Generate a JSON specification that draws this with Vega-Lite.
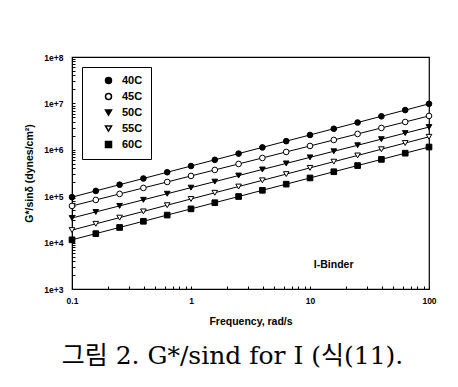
{
  "$schema": "https://vega.github.io/schema/vega-lite/v6.json",
  "width": 357,
  "height": 232,
  "autosize": "none",
  "padding": {"left": 72, "top": 57, "right": 29, "bottom": 98},
  "background": "white",
  "title": {
    "text": "그림 2. G*/sind for I (식(11).",
    "orient": "bottom",
    "anchor": "middle",
    "font": "DejaVu Serif, Noto Sans CJK KR",
    "fontSize": 25,
    "fontWeight": "normal",
    "color": "black",
    "offset": 17,
    "dx": -18
  },
  "config": {
    "font": "Liberation Sans",
    "view": {"stroke": "black", "strokeWidth": 1.2},
    "axis": {
      "domainColor": "black",
      "tickColor": "black",
      "labelColor": "black",
      "titleColor": "black",
      "grid": false,
      "labelFont": "Liberation Sans",
      "labelFontSize": 8.5,
      "labelFontWeight": "bold",
      "titleFont": "Liberation Sans",
      "titleFontSize": 10.5,
      "titleFontWeight": "bold"
    }
  },
  "datasets": {
    "pts": [
      {"f": 0.1, "T": "40C", "G": 95500}, {"f": 0.1585, "T": "40C", "G": 130000}, {"f": 0.2512, "T": "40C", "G": 177000}, {"f": 0.3981, "T": "40C", "G": 241000}, {"f": 0.631, "T": "40C", "G": 328000}, {"f": 1, "T": "40C", "G": 447000}, {"f": 1.585, "T": "40C", "G": 608000}, {"f": 2.512, "T": "40C", "G": 828000}, {"f": 3.981, "T": "40C", "G": 1127000}, {"f": 6.31, "T": "40C", "G": 1535000}, {"f": 10, "T": "40C", "G": 2089000}, {"f": 15.85, "T": "40C", "G": 2844000}, {"f": 25.12, "T": "40C", "G": 3873000}, {"f": 39.81, "T": "40C", "G": 5272000}, {"f": 63.1, "T": "40C", "G": 7178000}, {"f": 100, "T": "40C", "G": 9772000},
      {"f": 0.1, "T": "45C", "G": 61700}, {"f": 0.1585, "T": "45C", "G": 83000}, {"f": 0.2512, "T": "45C", "G": 112000}, {"f": 0.3981, "T": "45C", "G": 150700}, {"f": 0.631, "T": "45C", "G": 202800}, {"f": 1, "T": "45C", "G": 273500}, {"f": 1.585, "T": "45C", "G": 368100}, {"f": 2.512, "T": "45C", "G": 495500}, {"f": 3.981, "T": "45C", "G": 666800}, {"f": 6.31, "T": "45C", "G": 899500}, {"f": 10, "T": "45C", "G": 1211000}, {"f": 15.85, "T": "45C", "G": 1629000}, {"f": 25.12, "T": "45C", "G": 2198000}, {"f": 39.81, "T": "45C", "G": 2958000}, {"f": 63.1, "T": "45C", "G": 3981000}, {"f": 100, "T": "45C", "G": 5370000},
      {"f": 0.1, "T": "50C", "G": 33900}, {"f": 0.1585, "T": "50C", "G": 45800}, {"f": 0.2512, "T": "50C", "G": 61800}, {"f": 0.3981, "T": "50C", "G": 83600}, {"f": 0.631, "T": "50C", "G": 113000}, {"f": 1, "T": "50C", "G": 152800}, {"f": 1.585, "T": "50C", "G": 206100}, {"f": 2.512, "T": "50C", "G": 278600}, {"f": 3.981, "T": "50C", "G": 376700}, {"f": 6.31, "T": "50C", "G": 508200}, {"f": 10, "T": "50C", "G": 687100}, {"f": 15.85, "T": "50C", "G": 929000}, {"f": 25.12, "T": "50C", "G": 1253000}, {"f": 39.81, "T": "50C", "G": 1694000}, {"f": 63.1, "T": "50C", "G": 2291000}, {"f": 100, "T": "50C", "G": 3090000},
      {"f": 0.1, "T": "55C", "G": 18600}, {"f": 0.1585, "T": "55C", "G": 25400}, {"f": 0.2512, "T": "55C", "G": 34500}, {"f": 0.3981, "T": "55C", "G": 47000}, {"f": 0.631, "T": "55C", "G": 64000}, {"f": 1, "T": "55C", "G": 87100}, {"f": 1.585, "T": "55C", "G": 118600}, {"f": 2.512, "T": "55C", "G": 161400}, {"f": 3.981, "T": "55C", "G": 219800}, {"f": 6.31, "T": "55C", "G": 299200}, {"f": 10, "T": "55C", "G": 407400}, {"f": 15.85, "T": "55C", "G": 554600}, {"f": 25.12, "T": "55C", "G": 755100}, {"f": 39.81, "T": "55C", "G": 1028000}, {"f": 63.1, "T": "55C", "G": 1400000}, {"f": 100, "T": "55C", "G": 1905000},
      {"f": 0.1, "T": "60C", "G": 11500}, {"f": 0.1585, "T": "60C", "G": 15600}, {"f": 0.2512, "T": "60C", "G": 21200}, {"f": 0.3981, "T": "60C", "G": 28800}, {"f": 0.631, "T": "60C", "G": 39200}, {"f": 1, "T": "60C", "G": 53300}, {"f": 1.585, "T": "60C", "G": 72400}, {"f": 2.512, "T": "60C", "G": 98400}, {"f": 3.981, "T": "60C", "G": 134000}, {"f": 6.31, "T": "60C", "G": 182000}, {"f": 10, "T": "60C", "G": 247200}, {"f": 15.85, "T": "60C", "G": 336500}, {"f": 25.12, "T": "60C", "G": 457100}, {"f": 39.81, "T": "60C", "G": 620900}, {"f": 63.1, "T": "60C", "G": 845300}, {"f": 100, "T": "60C", "G": 1148000}
    ],
    "note": [{"f": 15.8, "G": 3300, "label": "I-Binder"}]
  },
  "encoding": {
    "x": {
      "field": "f", "type": "quantitative",
      "scale": {"type": "log", "domain": [0.1, 100], "nice": false},
      "axis": {
        "title": "Frequency, rad/s",
        "titlePadding": 12,
        "values": [0.1, 0.2, 0.3, 0.4, 0.5, 0.6, 0.7, 0.8, 0.9, 1, 2, 3, 4, 5, 6, 7, 8, 9, 10, 20, 30, 40, 50, 60, 70, 80, 90, 100],
        "labelExpr": "indexof([0.1, 1, 10, 100], datum.value) >= 0 ? datum.label : ''",
        "format": "~g",
        "tickSize": -3,
        "labelPadding": 10,
        "labelFlush": false,
        "labelOverlap": false
      }
    },
    "y": {
      "field": "G", "type": "quantitative",
      "scale": {"type": "log", "domain": [1000, 100000000], "nice": false},
      "axis": {
        "title": "G*/sinδ (dynes/cm²)",
        "titlePadding": 9,
        "values": [1000, 2000, 3000, 4000, 5000, 6000, 7000, 8000, 9000, 10000, 20000, 30000, 40000, 50000, 60000, 70000, 80000, 90000, 100000, 200000, 300000, 400000, 500000, 600000, 700000, 800000, 900000, 1000000, 2000000, 3000000, 4000000, 5000000, 6000000, 7000000, 8000000, 9000000, 10000000, 20000000, 30000000, 40000000, 50000000, 60000000, 70000000, 80000000, 90000000, 100000000],
        "labelExpr": "indexof([1000, 10000, 100000, 1000000, 10000000, 100000000], datum.value) >= 0 ? format(datum.value, '.0e') : ''",
        "tickSize": -3,
        "labelPadding": 12,
        "labelFlush": false,
        "labelOverlap": false
      }
    }
  },
  "layer": [
    {
      "data": {"name": "pts"},
      "mark": {"type": "line", "color": "black", "strokeWidth": 1},
      "encoding": {"detail": {"field": "T", "type": "nominal"}}
    },
    {
      "data": {"name": "pts"},
      "mark": {"type": "point", "filled": true, "stroke": "black", "strokeWidth": 1, "opacity": 1},
      "encoding": {
        "shape": {
          "field": "T", "type": "nominal",
          "scale": {"domain": ["40C", "45C", "50C", "55C", "60C"], "range": ["circle", "circle", "triangle-down", "triangle-down", "square"]},
          "legend": {
            "title": null,
            "orient": "top-left",
            "offset": 10,
            "strokeColor": "black",
            "fillColor": "white",
            "padding": 8,
            "symbolOffset": 13,
            "labelOffset": 8,
            "rowPadding": 3,
            "labelFont": "Liberation Sans",
            "labelFontSize": 11,
            "labelFontWeight": "bold",
            "labelColor": "black",
            "symbolSize": 36,
            "encode": {
              "symbols": {"update": {"stroke": {"value": "black"}, "strokeWidth": {"value": 1}, "opacity": {"value": 1}}}
            }
          }
        },
        "fill": {
          "field": "T", "type": "nominal",
          "scale": {"domain": ["40C", "45C", "50C", "55C", "60C"], "range": ["black", "white", "black", "white", "black"]},
          "legend": {"title": null}
        },
        "size": {"value": 32}
      }
    },
    {
      "data": {"name": "note"},
      "mark": {"type": "text", "font": "Liberation Sans", "fontSize": 10.5, "fontWeight": "bold", "color": "black"},
      "encoding": {"text": {"field": "label"}}
    }
  ]
}
